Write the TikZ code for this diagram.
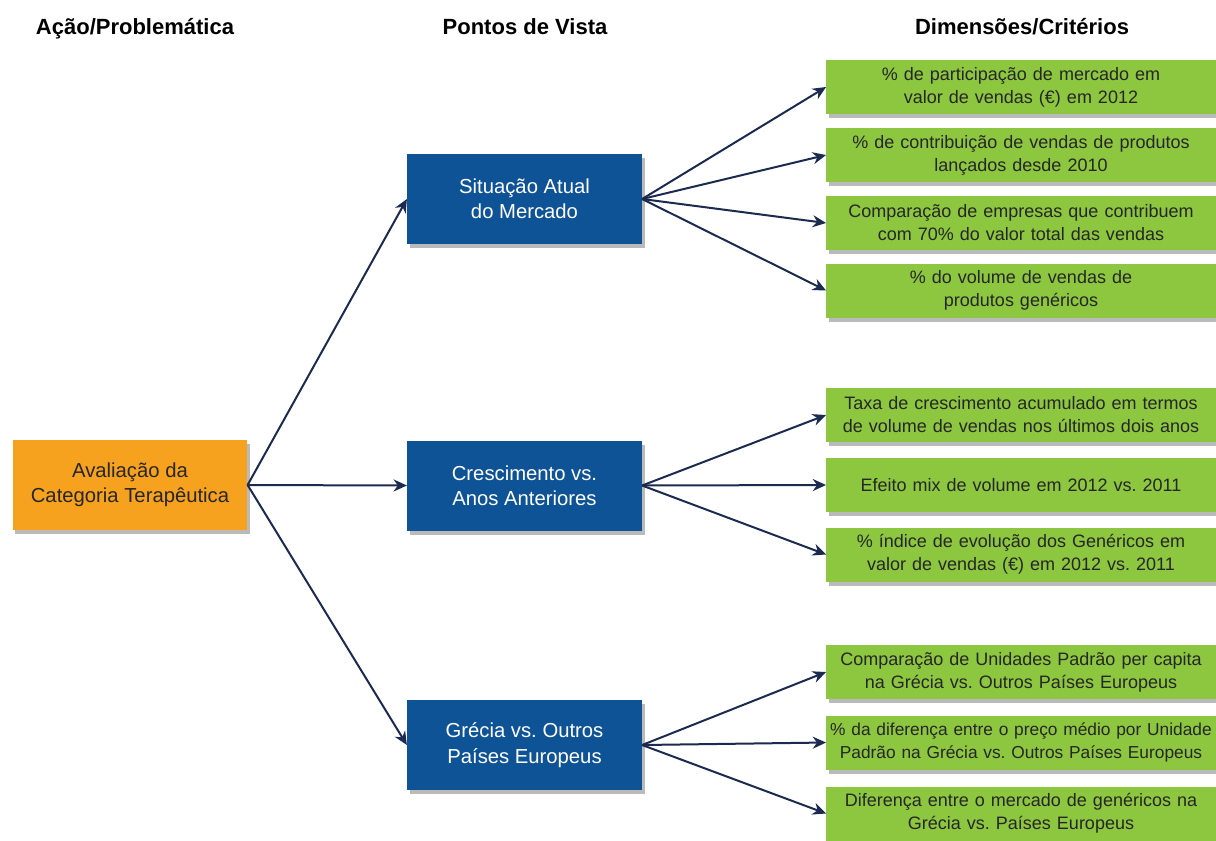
\documentclass[tikz,border=0pt]{standalone}
\usepackage{fontspec}
\setmainfont{Liberation Sans}
\usetikzlibrary{arrows.meta,shadows,positioning}
\frenchspacing

\definecolor{laranja}{HTML}{F7A21E}
\definecolor{azul}{HTML}{0E5396}
\definecolor{verde}{HTML}{8DC63F}
\definecolor{seta}{HTML}{1B2A4E}

\tikzset{
  caixa/.style={rectangle, align=center, inner sep=2pt, font=\fontsize{13.5}{17.3}\selectfont,
    drop shadow={shadow xshift=2pt, shadow yshift=-3pt, opacity=0.45, fill=black!60}},
  acao/.style={caixa, fill=laranja, text=black!85, minimum width=176pt, minimum height=67.5pt, font=\fontsize{15.2}{19}\selectfont},
  ponto/.style={caixa, fill=azul, text=white, minimum width=176pt, minimum height=67.5pt, font=\fontsize{15.2}{19}\selectfont},
  criterio/.style={caixa, fill=verde, text=black!85, text width=288pt, minimum height=40.5pt},
  titulo/.style={anchor=base, font=\bfseries\fontsize{16.5}{19}\selectfont},
  seta/.style={draw=seta, line width=1.5pt, -{Stealth[length=10pt,width=9pt]}}
}

\begin{document}
\begin{tikzpicture}[x=0.75pt, y=-0.75pt]
  \useasboundingbox (0,0) rectangle (1216,840);

  \node(t1) [titulo] at (135,34) {Ação/Problemática};
  \node(t2) [titulo] at (525,34) {Pontos de Vista};
  \node(t3) [titulo] at (1022,34) {Dimensões/Critérios};

  \node(acao) [acao] at (130,485) {Avaliação da\\Categoria Terapêutica};

  \node(pv1) [ponto] at (524.5,199) {Situação Atual\\do Mercado};
  \node(pv2) [ponto] at (524.5,485.5) {Crescimento vs.\\Anos Anteriores};
  \node(pv3) [ponto] at (524.5,745) {Grécia vs. Outros\\Países Europeus};

  \node(c1) [criterio] at (1021,87) {\% de participação de mercado em\\valor de vendas (€) em 2012};
  \node(c2) [criterio] at (1021,155) {\% de contribuição de vendas de produtos\\lançados desde 2010};
  \node(c3) [criterio] at (1021,223) {Comparação de empresas que contribuem\\com 70\% do valor total das vendas};
  \node(c4) [criterio] at (1021,290.5) {\% do volume de vendas de\\produtos genéricos};

  \node(c5) [criterio] at (1021,415) {Taxa de crescimento acumulado em termos\\de volume de vendas nos últimos dois anos};
  \node(c6) [criterio] at (1021,485) {Efeito mix de volume em 2012 vs. 2011};
  \node(c7) [criterio] at (1021,554.5) {\% índice de evolução dos Genéricos em\\valor de vendas (€) em 2012 vs. 2011};

  \node(c8) [criterio] at (1021,672) {Comparação de Unidades Padrão per capita\\na Grécia vs. Outros Países Europeus};
  \node(c9) [criterio, font=\fontsize{13}{17.3}\selectfont] at (1021,742.5) {\% da diferença entre o preço médio por Unidade\\Padrão na Grécia vs. Outros Países Europeus};
  \node(c10) [criterio] at (1021,813.5) {Diferença entre o mercado de genéricos na\\Grécia vs. Países Europeus};

  \foreach \p in {pv1,pv2,pv3}
    \draw[seta] (acao.east) -- (\p.west);
  \foreach \c in {c1,c2,c3,c4}
    \draw[seta] (pv1.east) -- (\c.west);
  \foreach \c in {c5,c6,c7}
    \draw[seta] (pv2.east) -- (\c.west);
  \foreach \c in {c8,c9,c10}
    \draw[seta] (pv3.east) -- (\c.west);
\end{tikzpicture}
\end{document}
